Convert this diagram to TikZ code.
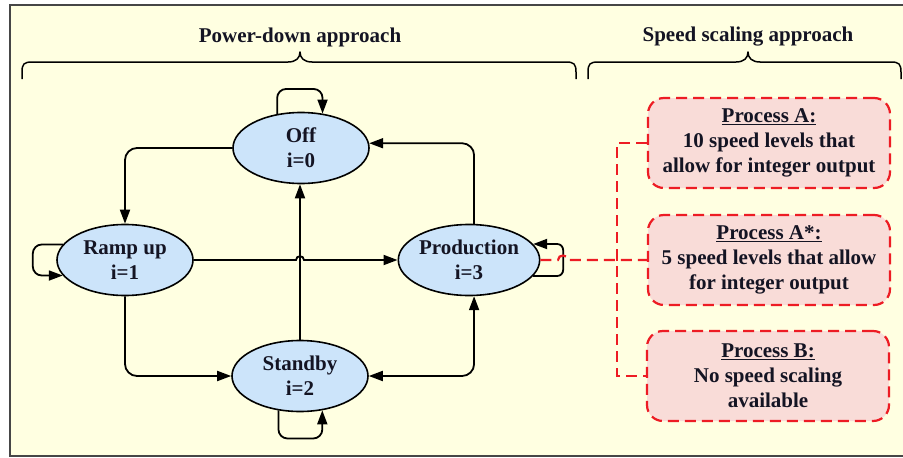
\documentclass[tikz,border=0pt]{standalone}
\usepackage{fontspec}
\setmainfont{Liberation Serif}
\usetikzlibrary{shapes.geometric,arrows.meta}

\definecolor{cream}{RGB}{255,255,225}
\definecolor{stateblue}{RGB}{204,228,250}
\definecolor{boxpink}{RGB}{249,220,216}
\definecolor{dashred}{RGB}{237,28,36}
\definecolor{framegray}{RGB}{70,70,70}
\definecolor{inkdark}{RGB}{20,20,35}

\begin{document}
\begin{tikzpicture}[x=1pt,y=-1pt,
  labelfont/.style={font=\fontsize{21}{25}\selectfont\bfseries, text=inkdark},
  state/.style={ellipse, draw=black, line width=1.6pt, fill=stateblue,
    minimum width=136pt, minimum height=71pt, inner sep=0pt, align=center, labelfont},
  procbox/.style={rectangle, rounded corners=16pt, draw=dashred, line width=2.2pt,
    dash pattern=on 11pt off 6pt, fill=boxpink, minimum width=242pt,
    minimum height=90pt, inner sep=0pt, align=center, labelfont},
  conn/.style={line width=1.8pt, rounded corners=12pt,
    -{Triangle[length=14pt,width=10pt]}},
  dconn/.style={line width=1.8pt, rounded corners=12pt,
    {Triangle[length=14pt,width=10pt]}-{Triangle[length=14pt,width=10pt]}},
  reddash/.style={draw=dashred, line width=2.2pt, dash pattern=on 11pt off 6pt},
  bracepath/.style={line width=1.5pt, line join=round},
  title/.style={labelfont}]

% page, backdrop and frame
\useasboundingbox (0,0) rectangle (903,458);
\clip (0,0) rectangle (903,458);
\fill[white] (0,0) rectangle (903,458);
\fill[cream] (10,5) rectangle (930,456);
\draw[framegray, line width=2.5pt] (10,5) rectangle (930,456);

% headings and braces
\node[title] (tpd) at (300,37) {Power-down approach};
\node[title] (tss) at (748,37) {Speed scaling approach};
\draw[bracepath] (22,79) -- (22,72) .. controls (22,64) and (24,62) .. (32,62)
  -- (288,62) .. controls (296,62) and (300,58) .. (300,52)
  .. controls (300,58) and (304,62) .. (312,62)
  -- (566,62) .. controls (574,62) and (576,64) .. (576,72) -- (576,79);
\draw[bracepath] (588,79) -- (588,72) .. controls (588,64) and (590,62) .. (598,62)
  -- (736,62) .. controls (744,62) and (748,58) .. (748,52)
  .. controls (748,58) and (752,62) .. (760,62)
  -- (891,62) .. controls (899,62) and (901,64) .. (901,72) -- (901,79);

% states
\node[state] (off)  at (301,148) {Off\\i=0};
\node[state] (ramp) at (125,260) {Ramp up\\i=1};
\node[state] (prod) at (469,260) {Production\\i=3};
\node[state] (stby) at (300,376) {Standby\\i=2};

% speed scaling options
\node[procbox] (boxA)  at (769,143) {\underline{Process A:}\\10 speed levels that\\allow for integer output};
\node[procbox] (boxAs) at (769,260) {\underline{Process A*:}\\5 speed levels that allow\\for integer output};
\node[procbox] (boxB)  at (768,376) {\underline{Process B:}\\No speed scaling\\available};

% transitions
\draw[conn] (off.west) -| (ramp.north);
\draw[conn] (prod.82) |- (off.4);
\draw[conn] (stby.north) -- (stby.north |- off.south);
\draw[conn] (ramp.south) |- (stby.west);
\draw[dconn] (stby.east) -| (prod.278);
\draw[conn, rounded corners=0pt] (ramp.east) -- (296,260)
  .. controls (296,255) and (304,255) .. (304,260) -- (prod.west);

% self-loops
\draw[conn, rounded corners=9pt] (off.125) -- ++(0,-25) -| (off.58);
\draw[conn, rounded corners=9pt] (ramp.166) -- ++(-30,0) |- (ramp.194);
\draw[conn, rounded corners=9pt] (stby.238) -- ++(0,28) -| (stby.303);
\draw[conn, rounded corners=6pt] (prod.-14) -- ++(30,0) |- (prod.14);

% dashed links to the speed scaling options
\coordinate (trunk) at (617,260);
\draw[reddash] (prod.east) -- (558,260) .. controls (558,254) and (568,254) .. (568,260)
  -- (boxAs.west);
\draw[reddash] (boxA.west) -| (trunk) |- (boxB.west);
\end{tikzpicture}
\end{document}
